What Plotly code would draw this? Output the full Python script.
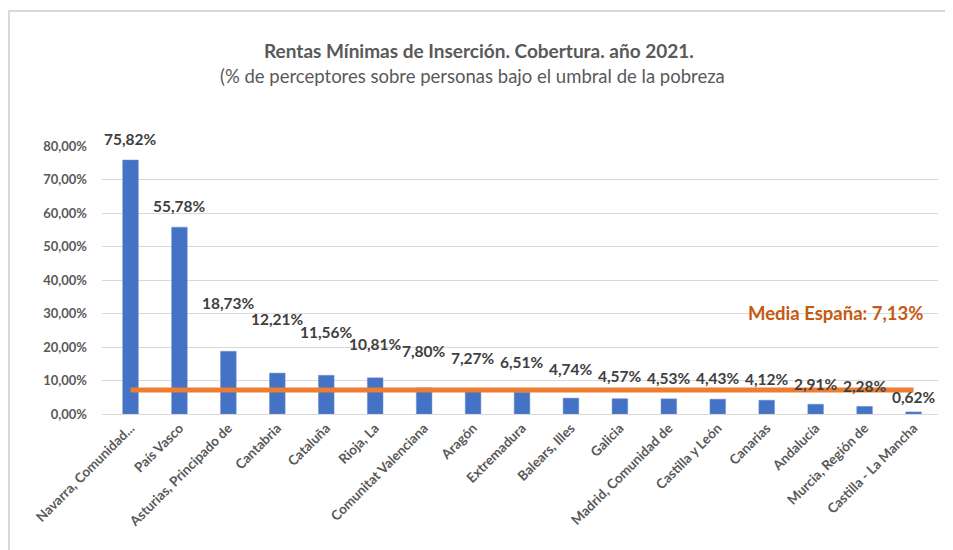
import plotly.graph_objects as go

categories = [
    "Navarra, Comunidad...", "País Vasco", "Asturias, Principado de", "Cantabria",
    "Cataluña", "Rioja, La", "Comunitat Valenciana", "Aragón", "Extremadura",
    "Balears, Illes", "Galicia", "Madrid, Comunidad de", "Castilla y León",
    "Canarias", "Andalucía", "Murcia, Región de", "Castilla - La Mancha",
]
coverage = [75.82, 55.78, 18.73, 12.21, 11.56, 10.81, 7.80, 7.27, 6.51,
            4.74, 4.57, 4.53, 4.43, 4.12, 2.91, 2.28, 0.62]
media_espana = 7.13
y_ticks = [0, 10, 20, 30, 40, 50, 60, 70, 80]

# label placement (style): vertical lift of each data label above its bar, in px
label_lift_px = [21, 21, 48, 54, 43, 34, 37, 32, 30, 29, 23, 21, 21, 21, 20, 20, 15]

FONT = "Lato"
GRAY = "#595959"
LABEL = "#404040"

def pct(v):
    return f"{v:.2f}".replace(".", ",") + "%"

# page body has an 8px margin: figure origin sits at window (8, 8)
OFF = 8
W, H = 953 - OFF, 550 - OFF
# plot area in window px: x 102..938, y 146..414
L, R, T, B = 102 - OFF, W - (938 - OFF), 146 - OFF, H - (414 - OFF)
pw, ph = W - L - R, H - T - B

def px_x(p):  # window px -> paper
    return (p - OFF - L) / pw

def px_y(p):
    return (H - B - (p - OFF)) / ph

fig = go.Figure()
fig.add_trace(go.Bar(
    x=categories, y=coverage, marker=dict(color="#4472C4", line=dict(color="#6E93D6", width=0.5)),
    hoverinfo="x+y", showlegend=False,
))
fig.add_trace(go.Scatter(
    x=categories, y=[media_espana] * len(categories), mode="lines",
    line=dict(color="#ED7D31", width=5), showlegend=False, hoverinfo="skip",
))

annotations = []
for c, v, lift in zip(categories, coverage, label_lift_px):
    annotations.append(dict(
        x=c, y=v, xref="x", yref="y", text=pct(v), showarrow=False,
        yanchor="middle", yshift=lift,
        font=dict(family=FONT, size=15.5, color=LABEL, weight="bold"),
    ))

annotations.append(dict(
    x=px_x(835), y=px_y(313), xref="paper", yref="paper",
    text="Media España: " + pct(media_espana), showarrow=False,
    xanchor="center", yanchor="middle",
    font=dict(family=FONT, size=18.5, color="#C55A11", weight="bold"),
))
annotations.append(dict(
    x=px_x(479), y=px_y(50), xref="paper", yref="paper",
    text="Rentas Mínimas de Inserción. Cobertura. año 2021.", showarrow=False,
    xanchor="center", yanchor="middle",
    font=dict(family=FONT, size=19, color=GRAY, weight="bold"),
))
annotations.append(dict(
    x=px_x(472), y=px_y(76), xref="paper", yref="paper",
    text="(% de perceptores sobre personas bajo el umbral de la pobreza", showarrow=False,
    xanchor="center", yanchor="middle",
    font=dict(family=FONT, size=18.5, color=GRAY),
))

shapes = [
    dict(type="line", xref="paper", yref="paper", x0=px_x(8), x1=px_x(953),
         y0=px_y(11), y1=px_y(11), line=dict(color="#D9D9D9", width=2)),
    dict(type="line", xref="paper", yref="paper", x0=px_x(9), x1=px_x(9),
         y0=px_y(11), y1=px_y(550), line=dict(color="#D9D9D9", width=2)),
]

fig.update_layout(
    width=W, height=H,
    margin=dict(l=L, r=R, t=T, b=B, pad=0),
    paper_bgcolor="white", plot_bgcolor="white",
    bargap=0.68,
    font=dict(family=FONT, color=GRAY),
    annotations=annotations, shapes=shapes,
    showlegend=False,
)
fig.update_yaxes(
    range=[0, 80], tickvals=y_ticks, ticktext=[pct(t) for t in y_ticks],
    showgrid=True, gridcolor="#D9D9D9", gridwidth=1, zeroline=False,
    showline=False, ticks="", ticklen=0, ticklabelstandoff=14,
    tickfont=dict(family=FONT, size=13, color=GRAY, weight="bold"),
)
fig.update_xaxes(
    tickangle=-45, showgrid=False, showline=True, linecolor="#D9D9D9", linewidth=1,
    ticks="", tickfont=dict(family=FONT, size=13.5, color=GRAY, weight="bold"),
)

fig.write_html("out.html")
